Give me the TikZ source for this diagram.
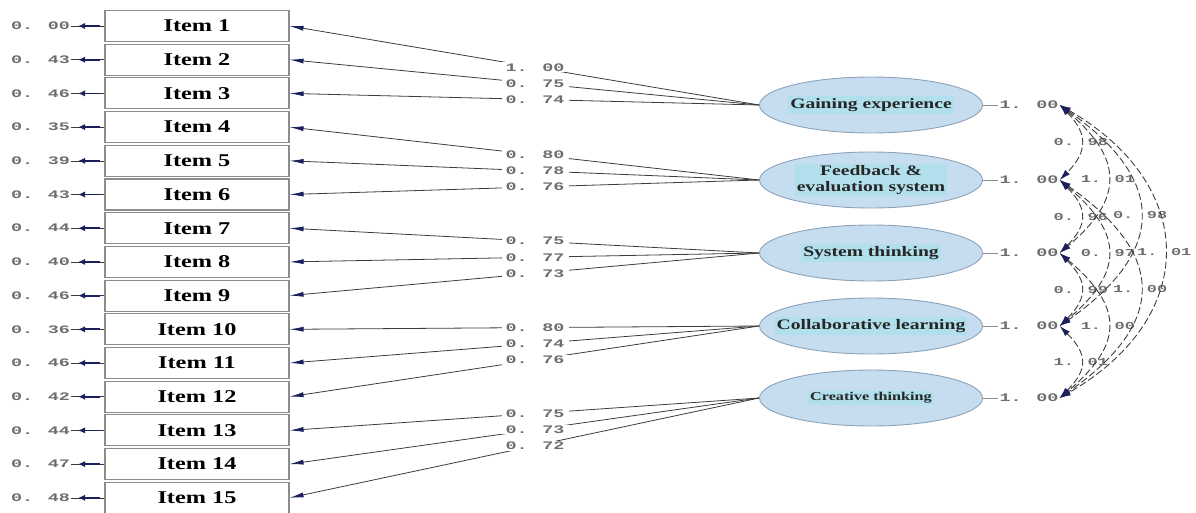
\documentclass[tikz,border=0pt]{standalone}
\usepackage{fontspec}
\setmainfont{Liberation Serif}
\newfontfamily\itemfont{Liberation Serif}[FakeStretch=1.35]
\newfontfamily\numfont{Liberation Mono}[FakeStretch=1.6]
\usetikzlibrary{arrows.meta,shapes.geometric}
\definecolor{tipc}{HTML}{1B1F5C}
\definecolor{linec}{HTML}{3C3C3C}
\definecolor{numc}{HTML}{6E6E6E}
\definecolor{boxc}{HTML}{8C8C8C}
\definecolor{ellfill}{HTML}{C6DDF0}
\definecolor{elldraw}{HTML}{8CA2B8}
\definecolor{hlc}{HTML}{B2DFEC}
\tikzset{
  itembox/.style={draw=boxc, line width=1.1pt, fill=white, minimum width=184pt,
    minimum height=31pt, inner sep=0pt, font={\itemfont\bfseries\fontsize{18}{20}\selectfont}},
  numlab/.style={font={\numfont\bfseries\fontsize{11.5}{12}\selectfont}, text=numc, inner sep=1pt},
  corrlab/.style={numlab, font={\numfont\bfseries\fontsize{10.6}{12}\selectfont}, inner sep=0pt},
  factor/.style={ellipse, draw=elldraw, line width=0.9pt, fill=ellfill,
    minimum width=223pt, minimum height=56pt, inner sep=0pt},
  ftext/.style={fill=hlc, inner sep=2pt, text=black!85, align=center,
    font={\itemfont\bfseries\fontsize{14.5}{15.5}\selectfont}},
  ftextsmall/.style={ftext, font={\itemfont\bfseries\fontsize{12}{13}\selectfont}},
  loading/.style={draw=linec, line width=0.8pt, -{Latex[length=14pt,width=5pt,color=tipc]}},
  loadlab/.style={numlab, fill=white, inner xsep=4pt, inner ysep=1pt},
  errthin/.style={draw=linec, line width=0.5pt},
  errthick/.style={draw=tipc, line width=1.8pt, -{Latex[length=7pt,width=6.5pt]}, shorten >=7pt, shorten <=4pt},
  varline/.style={draw=black!45, line width=0.6pt},
  corr/.style={draw=linec, line width=0.9pt, dash pattern=on 7pt off 3pt,
    {Latex[length=11pt,width=6.5pt,color=tipc]}-{Latex[length=11pt,width=6.5pt,color=tipc]}}
}
\begin{document}
\begin{tikzpicture}[x=1pt,y=1pt]
\useasboundingbox (0,0) rectangle (1196,-512);

% items and error labels
\foreach \i/\ev in {1/0. 00,2/0. 43,3/0. 46,4/0. 35,5/0. 39,6/0. 43,7/0. 44,8/0. 40,
  9/0. 46,10/0. 36,11/0. 46,12/0. 42,13/0. 44,14/0. 47,15/0. 48}{
  \pgfmathsetmacro\yy{-(26+(\i-1)*33.7)}
  \node[itembox] (I\i) at (197,\yy) {Item \i};
  \node[numlab] (e\i) at (40.5,\yy) {\ev};
  \draw[errthin] (I\i.west) -- (e\i.east);
  \draw[errthick] (I\i.west) -- (e\i.east);
}

% factors
\node[factor] (F1) at (871,-105) {};
\node[factor] (F2) at (871,-180) {};
\node[factor] (F3) at (871,-253) {};
\node[factor] (F4) at (871,-326) {};
\node[factor] (F5) at (871,-398) {};
\node[ftext] (T1) at (F1) {Gaining experience};
\node[ftext] (T2) at (F2) {Feedback \&\\evaluation system};
\node[ftext] (T3) at (F3) {System thinking};
\node[ftext] (T4) at (F4) {Collaborative learning};
\node[ftextsmall] (T5) at (F5) {Creative thinking};

% loadings
\foreach \i/\k/\lv in {1/1/1. 00,2/1/0. 75,3/1/0. 74,4/2/0. 80,5/2/0. 78,6/2/0. 76,
  7/3/0. 75,8/3/0. 77,9/3/0. 73,10/4/0. 80,11/4/0. 74,12/4/0. 76,13/5/0. 75,14/5/0. 73,15/5/0. 72}{
  \draw[loading] (F\k.west) -- node[loadlab, pos=0.477] {\lv} (I\i.east);
}

% factor variances
\foreach \k/\yy in {1/-105,2/-180,3/-253,4/-326,5/-398}{
  \node[numlab] (V\k) at (1029,\yy) {1. 00};
  \draw[varline] (F\k.east) -- (V\k.west);
}

% correlations
\draw[corr] (V1.east) to[out=-45,in=45,distance=40pt] node[corrlab,pos=0.5] {0. 98} (V2.east);
\draw[corr] (V2.east) to[out=-45,in=45,distance=40pt] node[corrlab,pos=0.5] {0. 96} (V3.east);
\draw[corr] (V3.east) to[out=-45,in=45,distance=40pt] node[corrlab,pos=0.5] {0. 99} (V4.east);
\draw[corr] (V4.east) to[out=-45,in=45,distance=40pt] node[corrlab,pos=0.5] {1. 01} (V5.east);
\draw[corr] (V1.east) to[out=-40,in=40,distance=84pt] node[corrlab,pos=0.5] {1. 01} (V3.east);
\draw[corr] (V2.east) to[out=-40,in=40,distance=84pt] node[corrlab,pos=0.5] {0. 97} (V4.east);
\draw[corr] (V3.east) to[out=-40,in=40,distance=84pt] node[corrlab,pos=0.5] {1. 00} (V5.east);
\draw[corr] (V1.east) to[out=-35,in=35,distance=131pt] node[corrlab,pos=0.5] {0. 98} (V4.east);
\draw[corr] (V2.east) to[out=-35,in=35,distance=131pt] node[corrlab,pos=0.5] {1. 00} (V5.east);
\draw[corr] (V1.east) to[out=-30,in=30,distance=161pt] node[corrlab,pos=0.5] {1. 01} (V5.east);
\end{tikzpicture}
\end{document}
